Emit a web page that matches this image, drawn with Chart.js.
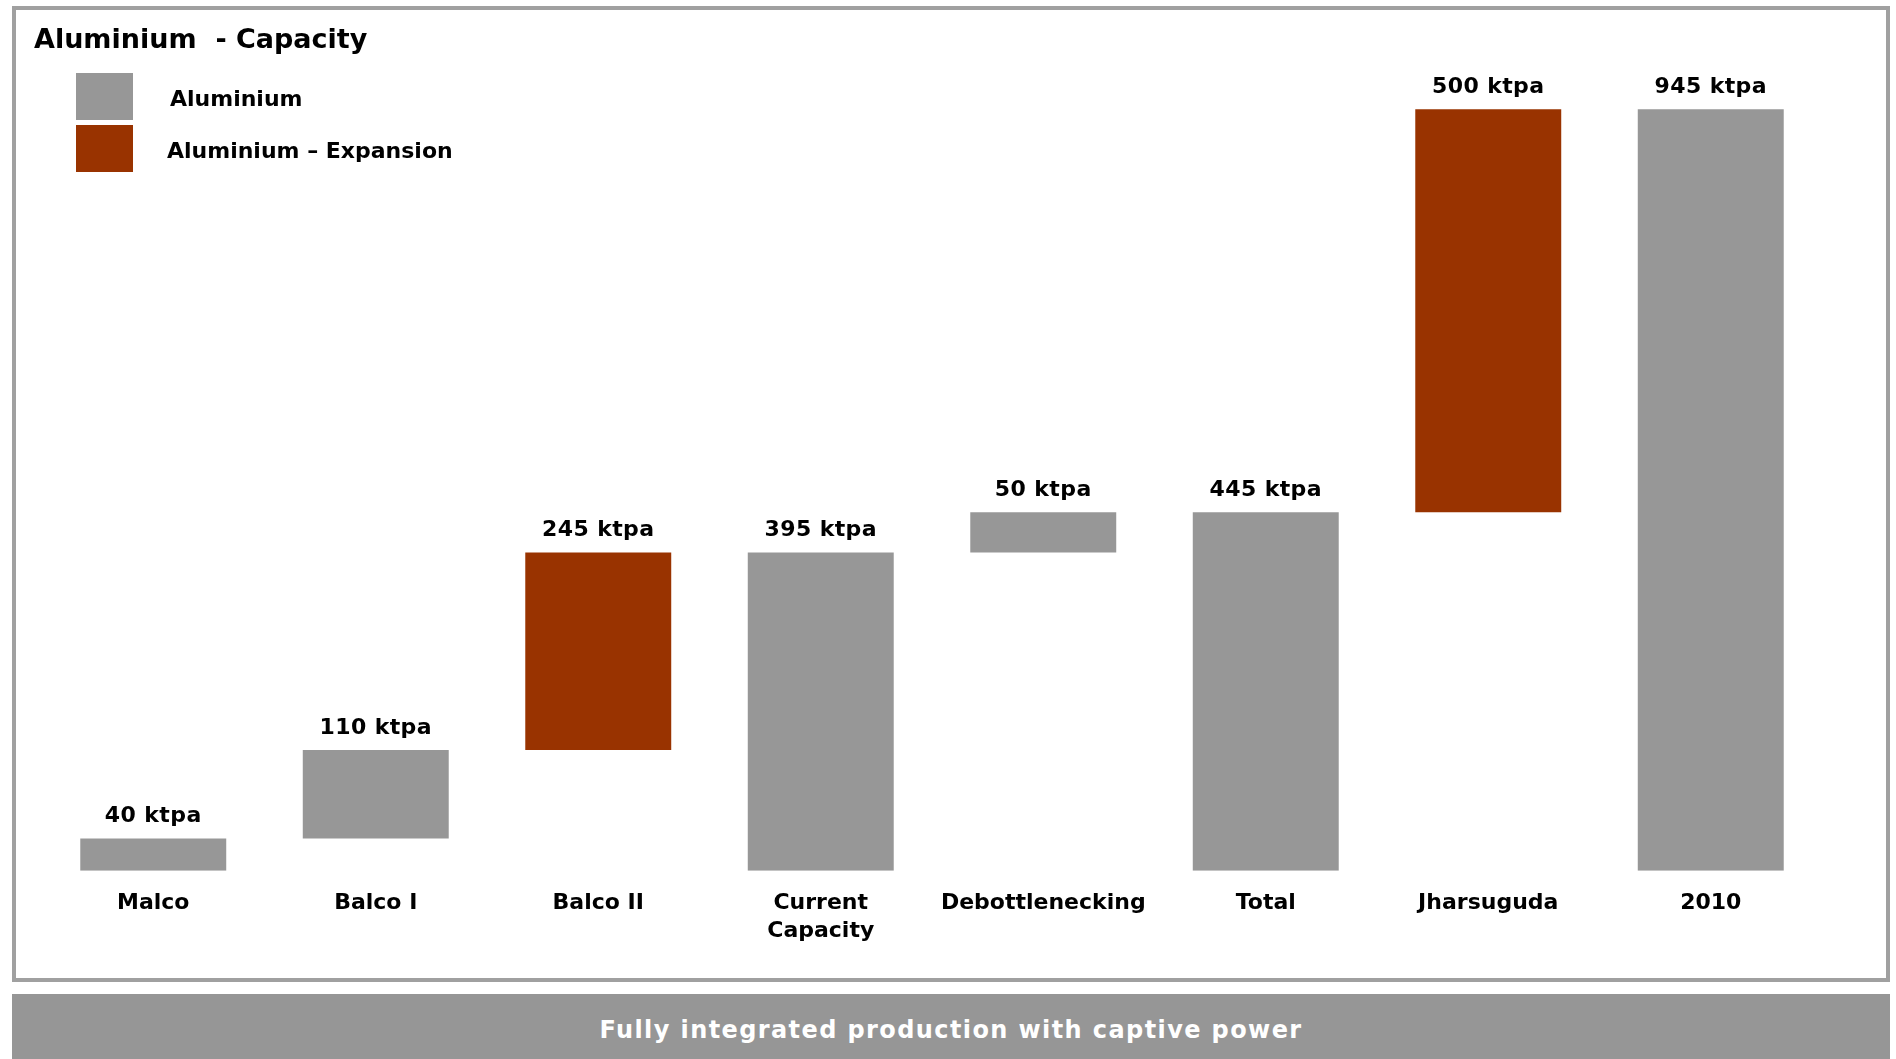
<!DOCTYPE html>
<html lang="en">
<head>
  <meta charset="UTF-8">
  <title>Aluminium - Capacity</title>
  <script src="https://cdn.jsdelivr.net/npm/chart.js"></script>
  <style>
    body { margin: 0; background: #fff; font-family: "DejaVu Sans", Verdana, sans-serif; }
    .page { position: relative; width: 1896px; height: 1059px; overflow: hidden; }
    .frame { position: absolute; left: 12px; top: 6px; width: 1870px; height: 968px; border: 4px solid #a0a0a0; }
    .footer { position: absolute; left: 12px; top: 994px; width: 1878px; height: 65px; background: #969696;
              color: #fff; font-weight: bold; font-size: 24px; text-align: center; line-height: 72px; letter-spacing: 1.4px; }
    .chartBox { position: absolute; left: 0; top: 0; width: 1896px; height: 1059px; }
  </style>
</head>
<body>
  <div class="page">
    <div class="frame"></div>
    <div class="footer">Fully integrated production with captive power</div>
    <div class="chartBox"><canvas id="grafica"></canvas></div>
  </div>

  <script>
    // categories (multi-line labels as arrays)
    const categories = [["Malco"], ["Balco I"], ["Balco II"], ["Current", "Capacity"], ["Debottlenecking"], ["Total"], ["Jharsuguda"], ["2010"]];
    const barStart = [0, 40, 150, 0, 395, 0, 445, 0];
    const barEnd = [40, 150, 395, 395, 445, 445, 945, 945];
    const isExpansion = [false, false, true, false, false, false, true, false];
    const seriesNames = ["Aluminium", "Aluminium \u2013 Expansion"];
    const unit = "ktpa";
    const titleText = "Aluminium  - Capacity";

    const GRIS = "#979797";
    const ROJO = "#993300";
    const FONT = "'DejaVu Sans', Verdana, sans-serif";

    const aluminio = categories.map((c, i) => isExpansion[i] ? null : [barStart[i], barEnd[i]]);
    const expansion = categories.map((c, i) => isExpansion[i] ? [barStart[i], barEnd[i]] : null);

    // titulo, leyenda y etiquetas de valor
    const extras = {
      id: "extras",
      afterDraw(chart) {
        const ctx = chart.ctx;
        ctx.save();
        ctx.fillStyle = "#000";
        ctx.textBaseline = "middle";
        ctx.textAlign = "left";
        ctx.font = "bold 27px " + FONT;
        ctx.fillText(titleText, 34, 41);

        ctx.font = "bold 22px " + FONT;
        chart.data.datasets.forEach((ds, k) => {
          const y0 = 73 + k * 52;
          ctx.fillStyle = ds.backgroundColor;
          ctx.fillRect(76, y0, 57, 47);
          ctx.fillStyle = "#000";
          ctx.fillText(ds.label, k === 0 ? 170 : 167, y0 + 27);
        });

        ctx.textAlign = "center";
        ctx.font = "bold 22px " + FONT;
        ctx.letterSpacing = "0.4px";
        chart.data.datasets.forEach((ds, k) => {
          const meta = chart.getDatasetMeta(k);
          meta.data.forEach((bar, i) => {
            const v = ds.data[i];
            if (!v) return;
            const top = Math.min(bar.y, bar.base);
            ctx.fillText((v[1] - v[0]) + " " + unit, bar.x, top - 22);
          });
        });
        ctx.restore();
      }
    };

    new Chart(document.getElementById("grafica"), {
      type: "bar",
      data: {
        labels: categories,
        datasets: [
          { label: seriesNames[0], data: aluminio, backgroundColor: GRIS },
          { label: seriesNames[1], data: expansion, backgroundColor: ROJO }
        ]
      },
      options: {
        responsive: true,
        maintainAspectRatio: false,
        animation: false,
        skipNull: true,
        categoryPercentage: 0.82,
        barPercentage: 0.8,
        layout: { padding: { left: 42, right: 74, top: 65, bottom: 95 } },
        scales: {
          x: {
            grid: { display: false, drawTicks: false },
            border: { display: false },
            ticks: {
              color: "#000",
              padding: 18,
              maxRotation: 0,
              autoSkip: false,
              font: { family: FONT, size: 22, weight: "bold", lineHeight: 1.3 }
            }
          },
          y: { display: false, min: 0, max: 1000 }
        },
        plugins: {
          legend: { display: false },
          tooltip: { enabled: false }
        }
      },
      plugins: [extras]
    });
  </script>
</body>
</html>
